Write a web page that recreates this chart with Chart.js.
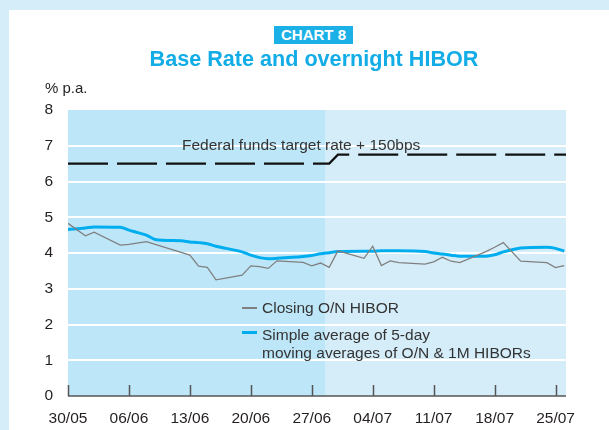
<!DOCTYPE html>
<html>
<head>
<meta charset="utf-8">
<script src="https://cdn.jsdelivr.net/npm/chart.js@4"></script>
<style>
  html, body { margin:0; padding:0; }
  body { width:609px; height:430px; background:#d5edf9; position:relative; overflow:hidden;
         font-family:"Liberation Sans", Arial, Helvetica, sans-serif; color:#231f20; }
  #panel { position:absolute; left:9px; top:10px; width:600px; height:420px; background:#fff; }
  #chartWrap { position:absolute; left:0; top:0; width:609px; height:430px; }
  .t { position:absolute; white-space:nowrap; line-height:1; }
  #badge { position:absolute; left:274px; top:26px; width:79px; height:18px; background:#1bb1e7;
           color:#fff; font-weight:bold; font-size:15px; text-align:center; line-height:18px; }
  #title { left:0; width:628px; text-align:center; top:48px; font-weight:bold; font-size:21.6px; color:#12ace6; }
  #unit { left:45px; top:80px; font-size:15px; }
  #fed { left:182px; top:137px; font-size:15.5px; color:#333; }
  .lg { position:absolute; left:242px; width:15px; }
  .lt { left:262px; font-size:15.5px; color:#333; }
</style>
</head>
<body>
<div id="panel"></div>
<div id="chartWrap"><canvas id="c" width="609" height="430"></canvas></div>
<div id="badge">CHART 8</div>
<div class="t" id="title">Base Rate and overnight HIBOR</div>
<div class="t" id="unit">% p.a.</div>
<div class="t" id="fed">Federal funds target rate + 150bps</div>
<div class="lg" style="top:307px;height:1.5px;background:#808080"></div>
<div class="t lt" style="top:300px">Closing O/N HIBOR</div>
<div class="lg" style="top:331px;height:3px;background:#00aeef"></div>
<div class="t lt" style="top:327px">Simple average of 5-day</div>
<div class="t lt" style="top:345px">moving averages of O/N &amp; 1M HIBORs</div>
<script>
// Days counted from 30/05 (business days only)
const days = [0,2,3,6,7,8,9,10,13,14,15,16,17,20,21,22,23,24,27,28,29,30,31,34,35,36,37,38,41,42,43,44,45,48,49,50,51,52,55,56,57];
const closingON = [4.83,4.48,4.58,4.22,4.24,null,4.32,null,null,3.94,3.63,3.60,3.25,3.38,3.64,3.62,3.57,3.78,3.74,3.64,3.72,3.60,4.06,3.85,4.19,3.65,3.78,3.73,3.69,3.75,3.88,3.77,3.73,4.04,4.16,4.29,null,3.77,3.73,3.59,3.65];
const avgMA = [4.66,4.70,4.73,4.72,4.64,4.57,4.50,4.38,4.34,4.31,4.29,4.26,4.19,4.03,3.94,3.87,3.84,3.85,3.90,3.93,3.98,4.01,4.04,4.05,4.05,4.06,4.06,4.06,4.04,4.00,3.97,3.94,3.91,3.91,3.95,4.03,4.09,4.14,4.16,4.13,4.05];
const fedDays = [0,30,31,57.2];
const fedPlus150 = [6.5,6.5,6.75,6.75];
const tickDays = [0,7,14,21,28,35,42,49,56];
const tickLabels = ['30/05','06/06','13/06','20/06','27/06','04/07','11/07','18/07','25/07'];
const shadedUntilDay = 29.6;
const xMax = 57.2;

const pts = (xs, ys) => xs.map((x,i) => ({x:x, y:ys[i]}));

const bgPlugin = {
  id:'bg',
  beforeDraw(chart){
    const {ctx, chartArea:a, scales:{x}} = chart;
    const xs = x.getPixelForValue(shadedUntilDay);
    ctx.save();
    ctx.fillStyle = '#bde6f8';
    ctx.fillRect(a.left, a.top, xs - a.left, a.bottom - a.top);
    ctx.fillStyle = '#d5edf9';
    ctx.fillRect(xs, a.top, a.right - xs, a.bottom - a.top);
    ctx.restore();
  },
  afterDatasetsDraw(chart){
    const {ctx, chartArea:a, scales:{x}} = chart;
    ctx.save();
    ctx.strokeStyle = '#555';
    ctx.lineWidth = 1.5;
    ctx.beginPath();
    ctx.moveTo(a.left, a.bottom);
    ctx.lineTo(a.right, a.bottom);
    tickDays.forEach(d => {
      const px = Math.round(x.getPixelForValue(d)) + 0.5;
      ctx.moveTo(px, a.bottom);
      ctx.lineTo(px, a.bottom - 11);
    });
    ctx.stroke();
    ctx.restore();
  }
};

new Chart(document.getElementById('c'), {
  type:'line',
  data:{
    datasets:[
      { label:'Federal funds target rate + 150bps', data:pts(fedDays, fedPlus150),
        borderColor:'#111', borderWidth:2.2, borderDash:[40,9], pointRadius:0, tension:0, order:3 },
      { label:'Simple average of 5-day moving averages of O/N & 1M HIBORs', data:pts(days, avgMA),
        borderColor:'#00aeef', borderWidth:3, pointRadius:0, cubicInterpolationMode:'monotone', order:2 },
      { label:'Closing O/N HIBOR', data:pts(days, closingON), spanGaps:true,
        borderColor:'#808080', borderWidth:1.3, pointRadius:0, tension:0, order:1 }
    ]
  },
  options:{
    responsive:false,
    animation:false,
    layout:{ padding:{ left:0, top:110, right:43, bottom:0 } },
    plugins:{ legend:{display:false}, tooltip:{enabled:false}, title:{display:false} },
    scales:{
      x:{
        type:'linear', min:0, max:xMax,
        afterFit(s){ s.height = 34; },
        afterBuildTicks(s){ s.ticks = tickDays.map(v => ({value:v})); },
        ticks:{ padding:13, maxRotation:0, autoSkip:false, color:'#231f20',
                font:{ family:'"Liberation Sans", Arial, sans-serif', size:15.5 },
                callback:(v) => { const i = tickDays.indexOf(v); return i >= 0 ? tickLabels[i] : ''; } },
        grid:{ display:false, drawTicks:false },
        border:{ display:false }
      },
      y:{
        min:0, max:8,
        afterFit(s){ s.width = 68; },
        ticks:{ stepSize:1, padding:15, color:'#231f20',
                font:{ family:'"Liberation Sans", Arial, sans-serif', size:15.5 } },
        grid:{ drawTicks:false, lineWidth:2,
               color:(c) => (c.tick && c.tick.value > 0 && c.tick.value < 8) ? '#ffffff' : 'rgba(0,0,0,0)' },
        border:{ display:false }
      }
    }
  },
  plugins:[bgPlugin]
});
</script>
</body>
</html>
